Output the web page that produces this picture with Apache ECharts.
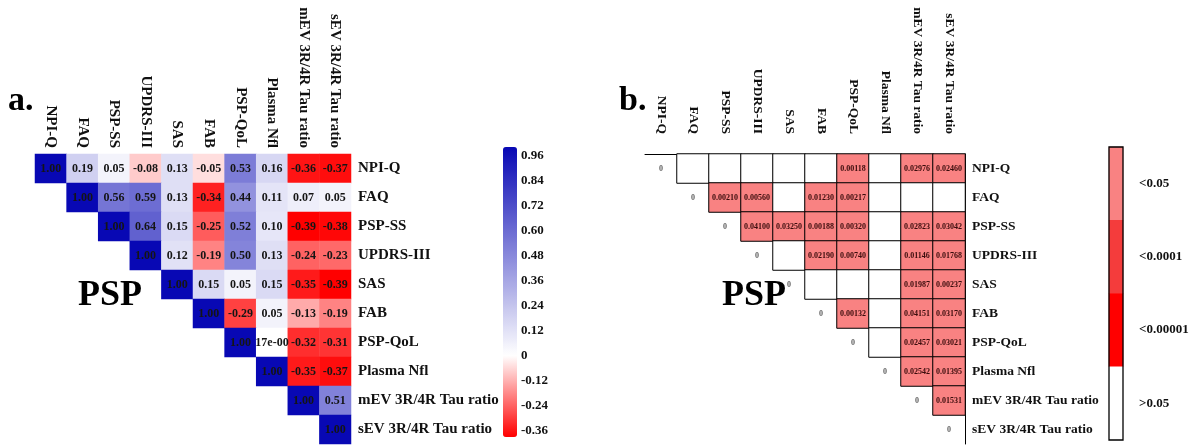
<!DOCTYPE html>
<html>
<head>
<meta charset="utf-8">
<script src="https://cdn.jsdelivr.net/npm/echarts@6/dist/echarts.min.js"></script>
<style>
  html, body { margin: 0; background: #ffffff; }
  #chart { width: 1199px; height: 445px; }
</style>
</head>
<body>
<div id="chart"></div>
<script>
// variables (same order on both axes)
const categories = ['NPI-Q', 'FAQ', 'PSP-SS', 'UPDRS-III', 'SAS', 'FAB', 'PSP-QoL', 'Plasma Nfl', 'mEV 3R/4R Tau ratio', 'sEV 3R/4R Tau ratio']

// a. correlation, upper triangle, each row starts at the diagonal
const corrRows = [
  [1.00, 0.19, 0.05, -0.08, 0.13, -0.05, 0.53, 0.16, -0.36, -0.37],
  [1.00, 0.56, 0.59, 0.13, -0.34, 0.44, 0.11, 0.07, 0.05],
  [1.00, 0.64, 0.15, -0.25, 0.52, 0.10, -0.39, -0.38],
  [1.00, 0.12, -0.19, 0.50, 0.13, -0.24, -0.23],
  [1.00, 0.15, 0.05, 0.15, -0.35, -0.39],
  [1.00, -0.29, 0.05, -0.13, -0.19],
  [1.00, 0.000117, -0.32, -0.31],
  [1.00, -0.35, -0.37],
  [1.00, 0.51],
  [1.00]
]
// the one cell whose text is clipped in the original
const corrTextOverrides = { '6,7': '17e-00' }

// b. p values, upper triangle without diagonal; null = not significant (>0.05, blank)
const pRows = [
  [null, null, null, null, null, 0.00118, null, 0.02976, 0.02460],
  [0.00210, 0.00560, null, 0.01230, 0.00217, null, null, null],
  [0.04100, 0.03250, 0.00188, 0.00320, null, 0.02823, 0.03042],
  [null, 0.02190, 0.00740, null, 0.01146, 0.01768],
  [null, null, null, 0.01987, 0.00237],
  [0.00132, null, 0.04151, 0.03170],
  [null, 0.02457, 0.03021],
  [0.02542, 0.01395],
  [0.01531],
  []
]
const NOT_SIG = 1

// colour bar ticks (a.)
const corrMin = -0.39
const corrMax = 1.0
const colorbarTicks = [-0.36, -0.24, -0.12, 0, 0.12, 0.24, 0.36, 0.48, 0.60, 0.72, 0.84, 0.96]

// p legend classes (b.), top to bottom
const pLegendLabels = ['<0.05', '<0.0001', '<0.00001', '>0.05']
const pLegendColors = ['#f98282', '#f43c3c', '#ff0000', '#ffffff']
const pPieces = [
  { gte: 0.0001, lt: 0.05, color: pLegendColors[0] },
  { gte: 0.00001, lt: 0.0001, color: pLegendColors[1] },
  { gte: 0, lt: 0.00001, color: pLegendColors[2] },
  { gte: 0.05, color: pLegendColors[3] }
]

const SERIF = "'Liberation Serif', 'DejaVu Serif', serif"

// build series data
const corrData = []
corrRows.forEach((row, i) => {
  row.forEach((v, k) => corrData.push([i + k, i, v]))
})
const pData = []
pRows.forEach((row, i) => {
  row.forEach((v, k) => pData.push([i + 1 + k, i, v == null ? NOT_SIG : v]))
})
const diagData = categories.map((c, i) => [i, i, 0])
const legendData = pLegendLabels.map((l, k) => [0, k, k])

// red -> white (at 0) -> blue colour stops, evenly spaced over [corrMin, corrMax]
const mix = (a, b, t) => 'rgb(' + a.map((x, i) => Math.round(x + (b[i] - x) * t)).join(',') + ')'
const red = [255, 0, 0], white = [255, 255, 255], blue = [8, 8, 180]
const corrColors = []
for (let s = 0; s <= 139; s++) {
  const v = corrMin + (corrMax - corrMin) * s / 139
  corrColors.push(v < 0 ? mix(white, red, v / corrMin) : mix(white, blue, v / corrMax))
}

const chart = echarts.init(document.getElementById('chart'))

const option = {
  backgroundColor: '#ffffff',
  animation: false,
  graphic: [
    { type: 'text', left: 8, top: 84, style: { text: 'a.', font: 'bold 34px ' + SERIF, fill: '#000' } },
    { type: 'text', left: 619, top: 84, style: { text: 'b.', font: 'bold 34px ' + SERIF, fill: '#000' } },
    { type: 'text', left: 78, top: 278, style: { text: 'PSP', font: 'bold 36px ' + SERIF, fill: '#000' } },
    { type: 'text', left: 722, top: 278, style: { text: 'PSP', font: 'bold 36px ' + SERIF, fill: '#000' } }
  ],
  grid: [
    { left: 35, top: 154, width: 316, height: 290, outerBoundsMode: 'none' },
    { left: 503, top: 147, width: 14, height: 290, outerBoundsMode: 'none' },
    { left: 645, top: 154, width: 320, height: 290, outerBoundsMode: 'none' },
    { left: 1109, top: 147, width: 14, height: 293, outerBoundsMode: 'none', show: true, borderColor: '#000', borderWidth: 1.3, backgroundColor: 'transparent', z: 10 }
  ],
  xAxis: [
    {
      gridIndex: 0, type: 'category', data: categories, position: 'top',
      axisLine: { show: true, lineStyle: { color: 'rgba(0,0,0,0)' } }, axisTick: { show: false }, splitLine: { show: false },
      axisLabel: { interval: 0, rotate: 90, margin: 6, color: '#111', fontFamily: SERIF, fontWeight: 'bold', fontSize: 15 }
    },
    { gridIndex: 1, type: 'value', show: false },
    {
      gridIndex: 2, type: 'category', data: categories, position: 'top',
      axisLine: { show: true, lineStyle: { color: '#000', width: 1 } }, axisTick: { show: false }, splitLine: { show: false },
      axisLabel: { interval: 0, rotate: 90, margin: 20, color: '#111', fontFamily: SERIF, fontWeight: 'bold', fontSize: 13.5 }
    },
    { gridIndex: 3, type: 'category', data: [''], show: false }
  ],
  yAxis: [
    {
      gridIndex: 0, type: 'category', data: categories, position: 'right', inverse: true,
      axisLine: { show: false }, axisTick: { show: false }, splitLine: { show: false },
      axisLabel: { interval: 0, margin: 7, color: '#111', fontFamily: SERIF, fontWeight: 'bold', fontSize: 15 }
    },
    {
      gridIndex: 1, type: 'value', position: 'right', min: corrMin, max: corrMax,
      axisLine: { show: false }, splitLine: { show: false },
      axisTick: { show: false },
      axisLabel: {
        customValues: colorbarTicks, margin: 4, color: '#111', fontFamily: SERIF, fontWeight: 'bold', fontSize: 13,
        formatter: v => (Math.abs(v) < 1e-9 ? '0' : v.toFixed(2))
      }
    },
    {
      gridIndex: 2, type: 'category', data: categories, position: 'right', inverse: true,
      axisLine: { show: true, lineStyle: { color: '#000', width: 1 } }, axisTick: { show: false }, splitLine: { show: false },
      axisLabel: { interval: 0, margin: 7, color: '#111', fontFamily: SERIF, fontWeight: 'bold', fontSize: 13.5 }
    },
    {
      gridIndex: 3, type: 'category', data: pLegendLabels, position: 'right', inverse: true,
      axisLine: { show: false }, splitLine: { show: false },
      axisTick: { show: true, inside: true, alignWithLabel: true, length: 2, lineStyle: { color: '#222', width: 1.3 } },
      axisLabel: { interval: 0, margin: 16, color: '#111', fontFamily: SERIF, fontWeight: 'bold', fontSize: 13 }
    },
    {
      gridIndex: 3, type: 'category', data: pLegendLabels, position: 'left', inverse: true,
      axisLine: { show: false }, splitLine: { show: false }, axisLabel: { show: false },
      axisTick: { show: true, inside: true, alignWithLabel: true, length: 2, lineStyle: { color: '#222', width: 1.3 } }
    }
  ],
  visualMap: [
    {
      type: 'continuous', seriesIndex: 0, min: corrMin, max: corrMax,
      calculable: false, realtime: false,
      left: 503, top: 147, padding: 0, itemWidth: 14, itemHeight: 290,
      inRange: { color: corrColors }
    },
    {
      type: 'piecewise', seriesIndex: 1, show: false,
      pieces: pPieces
    },
    {
      type: 'piecewise', seriesIndex: 3, show: false,
      pieces: pLegendColors.map((c, k) => ({ value: k, color: c }))
    }
  ],
  series: [
    {
      type: 'heatmap', xAxisIndex: 0, yAxisIndex: 0, data: corrData,
      label: {
        show: true, color: '#151515', fontFamily: SERIF, fontWeight: 'bold', fontSize: 12,
        formatter: p => corrTextOverrides[p.value[1] + ',' + p.value[0]] || p.value[2].toFixed(2)
      },
      emphasis: { disabled: true }
    },
    {
      type: 'heatmap', xAxisIndex: 2, yAxisIndex: 2, data: pData,
      itemStyle: { borderColor: '#000', borderWidth: 1 },
      label: {
        show: true, color: '#3a0c0c', fontFamily: SERIF, fontWeight: 'bold', fontSize: 8,
        formatter: p => (p.value[2] < 0.05 ? p.value[2].toFixed(5) : '')
      },
      emphasis: { disabled: true }
    },
    {
      type: 'scatter', xAxisIndex: 2, yAxisIndex: 2, data: diagData,
      symbolSize: 1, itemStyle: { color: 'rgba(0,0,0,0)' },
      label: {
        show: true, position: 'inside', color: '#333', fontFamily: SERIF, fontWeight: 'bold', fontSize: 8,
        formatter: p => String(p.value[2])
      },
      emphasis: { disabled: true }
    },
    {
      type: 'heatmap', xAxisIndex: 3, yAxisIndex: 3, data: legendData,
      emphasis: { disabled: true }
    }
  ]
}

chart.setOption(option)
window.addEventListener('resize', () => chart.resize())
</script>
</body>
</html>
